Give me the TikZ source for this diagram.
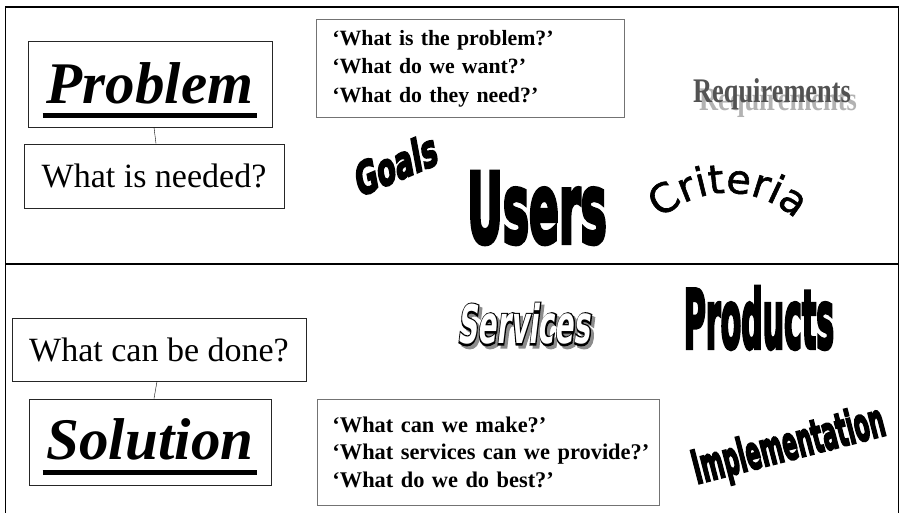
\documentclass[tikz,border=0pt]{standalone}
\usepackage{fontspec}
\setmainfont{Liberation Serif}
\newfontface\heavyfont{DejaVu Sans Bold}[FakeBold=5]
\newfontface\linefont{DejaVu Sans Bold}[FakeBold=7]
\newfontface\artfont{DejaVu Sans Bold}
\newfontface\critfont{DejaVu Sans}[FakeBold=1.5]
\usetikzlibrary{calc,decorations.text}

\tikzset{
  box/.style={draw=black!85, line width=0.8pt},
  qbox/.style={draw=black!55, line width=0.8pt, align=left, anchor=north west, inner xsep=16pt},
  art/.style={text=black},
  servart/.style={xslant=0.12, yscale=1.9},
  ul/.style={line width=4.5pt},
}

\begin{document}
\begin{tikzpicture}[x=1pt,y=1pt]
		\useasboundingbox (0,0) rectangle (900,513);

		% frame and divider
		\draw[line width=1.2pt] (5.5,-2) -- (5.5,506) -- (898.5,506) -- (898.5,-2);
		\draw[line width=2.2pt] (5.5,249) -- (898.5,249);

		% problem side
		\node[box, minimum width=244pt, minimum height=86pt, text height=44pt, text depth=4pt,
			font=\fontsize{59}{60}\selectfont\bfseries\itshape] (problem) at (150,429) {Problem};
		\node[box, minimum width=260pt, minimum height=64pt,
			font=\fontsize{34}{36}\selectfont] (needed) at (154,337) {What is needed?};
		\draw ([xshift=4pt]problem.south) -- ([xshift=2pt]needed.north);
		\draw[ul] ($(problem.south west)+(15,12)$) -- ($(problem.south east)+(-15,12)$);

		\node[qbox, text width=276pt, minimum height=98pt,
			font=\fontsize{21.8}{28.5}\selectfont\bfseries] (askprob) at (316,494)
			{`What is the problem?'\\ `What do we want?'\\ `What do they need?'};

		% word art, top
		\node[font=\fontsize{30}{30}\selectfont\bfseries, text=black!30, xscale=0.88, yscale=1.1] (reqshadow) at (778,410) {Requirements};
		\node[font=\fontsize{30}{30}\selectfont\bfseries, text=black!68, xscale=0.88, yscale=1.15] (req) at (772,419) {Requirements};
		\node[art, font=\heavyfont\fontsize{28}{28}\selectfont, rotate=23, xslant=0.22, yscale=1.55] (goals) at (396,349) {Goals};
		\node[art, font=\heavyfont\fontsize{44}{44}\selectfont, yscale=2.2] (users) at (537,305) {Users};
		\coordinate (critc) at (728,220);
		\path[decorate, decoration={text along path, text align=center,
			text={|\critfont\fontsize{40}{40}\selectfont|Criteria}}]
			($(critc)+(160:100)$) arc[start angle=160, end angle=20, radius=100];

		% solution side
		\node[box, minimum width=294pt, minimum height=63pt,
			font=\fontsize{34}{36}\selectfont] (done) at (159,163.5) {What can be done?};
		\node[box, minimum width=242pt, minimum height=86pt, text height=40pt, text depth=4pt,
			font=\fontsize{59}{60}\selectfont\bfseries\itshape] (solution) at (150,71) {Solution};
		\draw ([xshift=-2pt]done.south) -- ([xshift=4pt]solution.north);
		\draw[ul] ($(solution.south west)+(14,13)$) -- ($(solution.south east)+(-14,13)$);

		\node[qbox, text width=312pt, inner xsep=15pt, minimum height=106pt,
			font=\fontsize{22.4}{27.8}\selectfont\bfseries] (askdone) at (317,114)
			{\mbox{`What can we make?'}\\ \mbox{`What services can we provide?'}\\ \mbox{`What do we do best?'}};

		% word art, bottom
		\node[servart, font=\linefont\fontsize{28}{28}\selectfont, text=black!45] (servshadow) at (529,186) {Services};
		\node[servart, font=\linefont\fontsize{28}{28}\selectfont, text=black] (servline) at (526,189) {Services};
		\node[servart, font=\artfont\fontsize{28}{28}\selectfont, text=white] (services) at (526,189) {Services};
		\node[art, font=\heavyfont\fontsize{30}{30}\selectfont, yscale=2.7] (products) at (759,195) {Products};
		\node[art, font=\heavyfont\fontsize{22}{22}\selectfont, rotate=14.5, yscale=2.1] (impl) at (789,66) {Implementation};
	\end{tikzpicture}
\end{document}
